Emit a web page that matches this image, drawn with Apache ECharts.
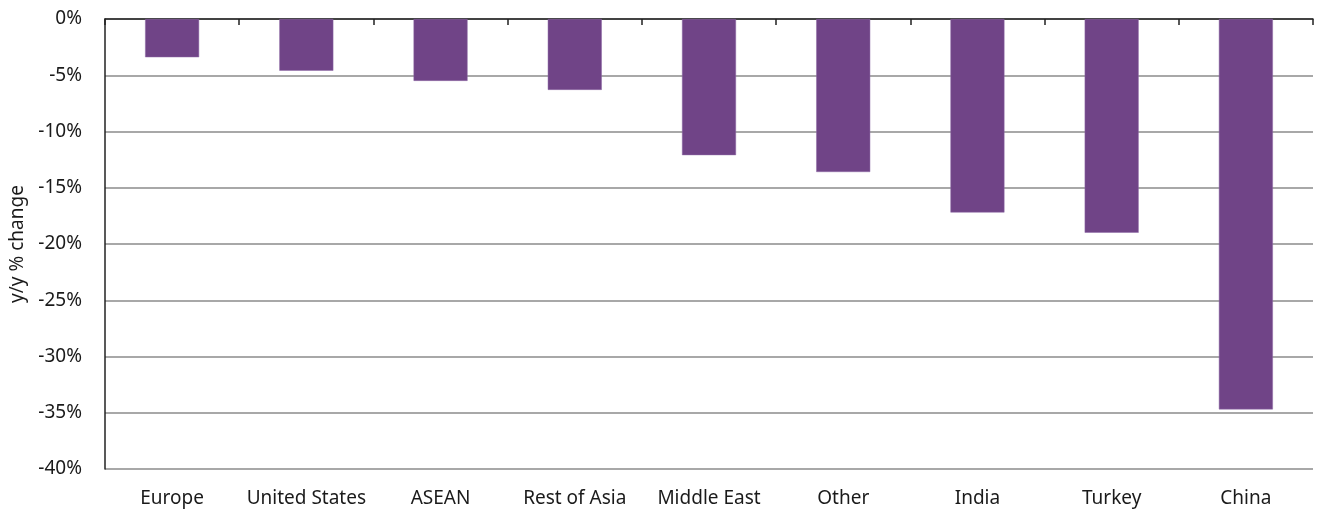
<!DOCTYPE html>
<html>
<head>
<meta charset="utf-8">
<script src="https://cdn.jsdelivr.net/npm/echarts@6/dist/echarts.min.js"></script>
<style>html,body{margin:0;padding:0;background:#fff}#c{width:1327px;height:510px}</style>
</head>
<body>
<div id="c"></div>
<script>
const categories = ['Europe', 'United States', 'ASEAN', 'Rest of Asia', 'Middle East', 'Other', 'India', 'Turkey', 'China'];
const values = [-3.4, -4.6, -5.5, -6.3, -12.1, -13.6, -17.2, -19.0, -34.7];
const yTicks = [0, -5, -10, -15, -20, -25, -30, -35, -40];
const yName = 'y/y % change';

const chart = echarts.init(document.getElementById('c'), null, {renderer: 'canvas'});
const font = 'Noto Sans';
chart.setOption({
  animation: false,
  grid: {left: 105, right: 14, top: 19, bottom: 41, containLabel: false, outerBoundsMode: 'none'},
  xAxis: [{
    type: 'category', data: categories, position: 'bottom',
    axisLine: {show: false, onZero: false},
    axisTick: {show: false},
    axisLabel: {color: '#1a1a1a', fontSize: 19, fontFamily: font, margin: 20, interval: 0}
  }, {
    type: 'category', data: categories, position: 'top',
    axisLine: {show: true, onZero: false, lineStyle: {color: '#222', width: 1.5}},
    axisTick: {show: true, inside: true, length: 6, lineStyle: {color: '#222', width: 1.5}},
    axisLabel: {show: false}
  }],
  yAxis: {
    type: 'value', min: -40, max: 0, interval: 5,
    name: yName, nameLocation: 'middle', nameGap: 76, nameRotate: 90,
    nameTextStyle: {color: '#1a1a1a', fontSize: 19, fontFamily: font},
    axisLine: {show: true, lineStyle: {color: '#222', width: 1.5}},
    axisTick: {show: false},
    axisLabel: {color: '#1a1a1a', fontSize: 19, fontFamily: font, margin: 23,
      formatter: v => (yTicks.includes(v) ? v + '%' : '')},
    splitLine: {show: true, lineStyle: {color: '#a8a8a8', width: 2}}
  },
  series: [{
    type: 'bar', data: values, xAxisIndex: 0,
    barWidth: 54,
    itemStyle: {color: '#704487', borderColor: '#8e6aa6', borderWidth: 0.5}
  }]
});
</script>
</body>
</html>
